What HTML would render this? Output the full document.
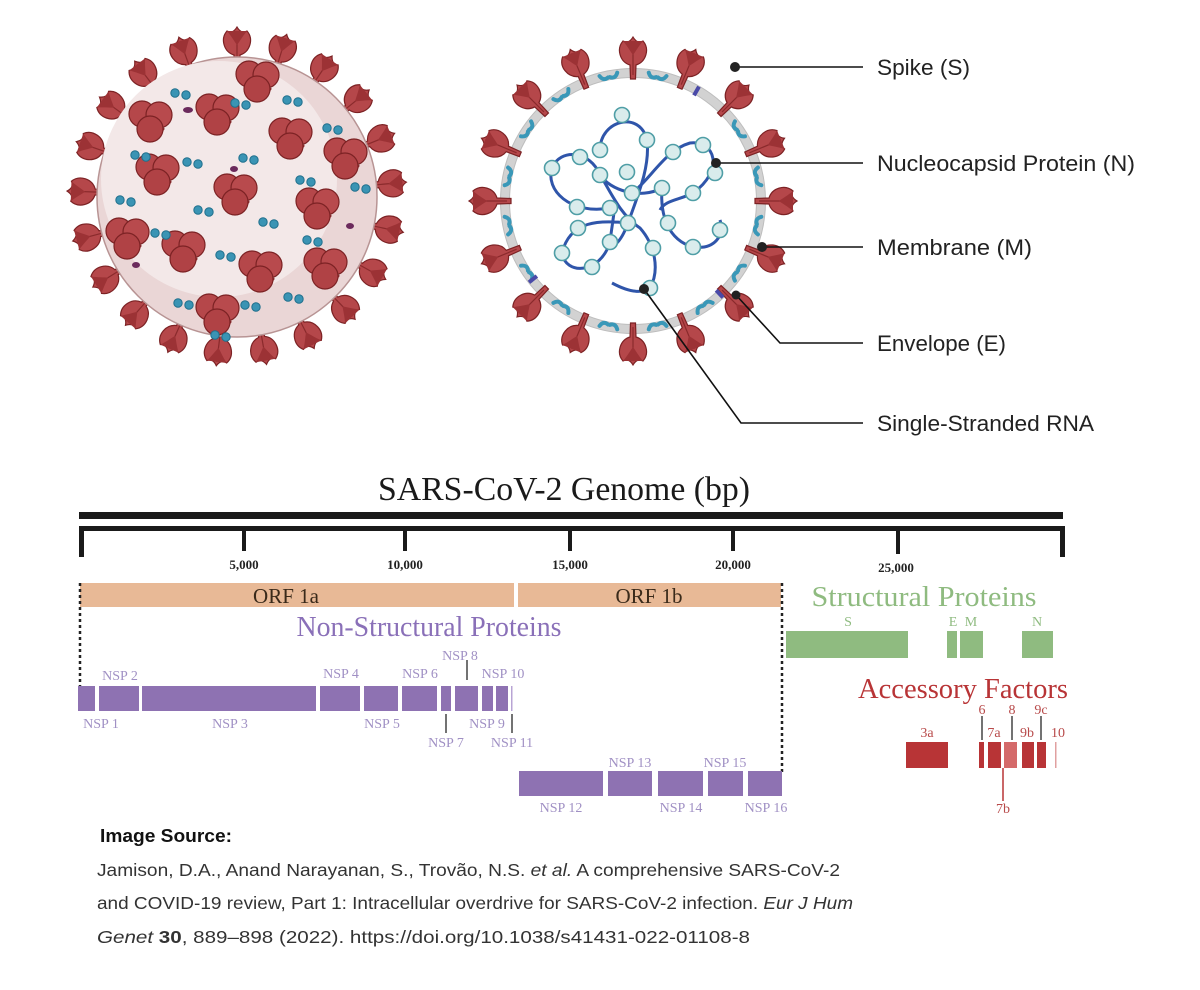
<!DOCTYPE html>
<html><head><meta charset="utf-8"><style>
html,body{margin:0;padding:0;background:#fff;}
svg{display:block;}
</style></head><body>
<svg width="1200" height="990" viewBox="0 0 1200 990" xmlns="http://www.w3.org/2000/svg">
<defs>
<g id="sp">
<path d="M-2.5,0 L2.5,0 L3,-14 C13,-17 17,-30 10,-38 C6,-36 3,-37 0,-42 C-3,-37 -6,-36 -10,-38 C-17,-30 -13,-17 -3,-14 Z" fill="#b5474a" stroke="#7c2224" stroke-width="1.2"/>
<path d="M0,-4 L0,-38" stroke="#8a2a2c" stroke-width="1.2"/>
<path d="M-10,-38 C-5,-32 -3,-28 0,-24 C3,-28 5,-32 10,-38" fill="#9c3235" stroke="none"/>
</g>
<g id="mp">
<path d="M-9,-3 q3,6 8,3" fill="none" stroke="#3a98b8" stroke-width="4" stroke-linecap="round"/>
<path d="M9,-3 q-3,6 -8,3" fill="none" stroke="#3a98b8" stroke-width="4" stroke-linecap="round"/>
</g>
<g id="tv">
<path d="M0,0 l14,10" stroke="#8a2a2c" stroke-width="3"/>
<circle cx="-8" cy="-6" r="13" fill="#b5474a" stroke="#7c2224" stroke-width="1.2"/>
<circle cx="9" cy="-5" r="13" fill="#b84a4d" stroke="#7c2224" stroke-width="1.2"/>
<circle cx="0" cy="9" r="13" fill="#b04245" stroke="#7c2224" stroke-width="1.2"/>
</g>
<g id="bd"><circle cx="-5" cy="0" r="4.2" fill="#3a94b4" stroke="#1f6f8c"/><circle cx="6" cy="2" r="4.2" fill="#3a94b4" stroke="#1f6f8c"/></g>
</defs>

<!-- LEFT VIRUS -->
<g transform="translate(237,197)">
<use href="#sp" transform="rotate(0) translate(0,-128)"/>
<use href="#sp" transform="rotate(17) translate(0,-128)"/>
<use href="#sp" transform="rotate(34) translate(0,-128)"/>
<use href="#sp" transform="rotate(51) translate(0,-128)"/>
<use href="#sp" transform="rotate(68) translate(0,-128)"/>
<use href="#sp" transform="rotate(85) translate(0,-128)"/>
<use href="#sp" transform="rotate(102) translate(0,-128)"/>
<use href="#sp" transform="rotate(119) translate(0,-128)"/>
<use href="#sp" transform="rotate(136) translate(0,-128)"/>
<use href="#sp" transform="rotate(153) translate(0,-128)"/>
<use href="#sp" transform="rotate(170) translate(0,-128)"/>
<use href="#sp" transform="rotate(187) translate(0,-128)"/>
<use href="#sp" transform="rotate(204) translate(0,-128)"/>
<use href="#sp" transform="rotate(221) translate(0,-128)"/>
<use href="#sp" transform="rotate(238) translate(0,-128)"/>
<use href="#sp" transform="rotate(255) translate(0,-128)"/>
<use href="#sp" transform="rotate(272) translate(0,-128)"/>
<use href="#sp" transform="rotate(289) translate(0,-128)"/>
<use href="#sp" transform="rotate(306) translate(0,-128)"/>
<use href="#sp" transform="rotate(323) translate(0,-128)"/>
<use href="#sp" transform="rotate(340) translate(0,-128)"/>
<circle cx="0" cy="0" r="140" fill="#ead6d6" stroke="#b89494" stroke-width="1.5"/>
<circle cx="-18" cy="-18" r="118" fill="#f3e8e8"/>
</g>
<use href="#tv" x="217" y="113"/><use href="#tv" x="290" y="137"/><use href="#tv" x="150" y="120"/>
<use href="#tv" x="157" y="173"/><use href="#tv" x="235" y="193"/><use href="#tv" x="317" y="207"/>
<use href="#tv" x="183" y="250"/><use href="#tv" x="260" y="270"/><use href="#tv" x="257" y="80"/>
<use href="#tv" x="345" y="157"/><use href="#tv" x="127" y="237"/><use href="#tv" x="325" y="267"/>
<use href="#tv" x="217" y="313"/>
<use href="#bd" x="180" y="93"/><use href="#bd" x="240" y="103"/><use href="#bd" x="292" y="100"/>
<use href="#bd" x="332" y="128"/><use href="#bd" x="140" y="155"/><use href="#bd" x="192" y="162"/>
<use href="#bd" x="248" y="158"/><use href="#bd" x="305" y="180"/><use href="#bd" x="125" y="200"/>
<use href="#bd" x="203" y="210"/><use href="#bd" x="268" y="222"/><use href="#bd" x="312" y="240"/>
<use href="#bd" x="160" y="233"/><use href="#bd" x="225" y="255"/><use href="#bd" x="183" y="303"/>
<use href="#bd" x="250" y="305"/><use href="#bd" x="293" y="297"/><use href="#bd" x="360" y="187"/>
<use href="#bd" x="220" y="335"/>
<ellipse cx="188" cy="110" rx="5" ry="3" fill="#6b2a5c"/>
<ellipse cx="234" cy="169" rx="4" ry="3" fill="#6b2a5c"/>
<ellipse cx="350" cy="226" rx="4" ry="3" fill="#6b2a5c"/>
<ellipse cx="136" cy="265" rx="4" ry="3" fill="#6b2a5c"/>

<!-- RIGHT VIRUS -->
<g transform="translate(633,201)">
<circle cx="0" cy="0" r="128" fill="none" stroke="#d2d2d2" stroke-width="9"/>
<circle cx="0" cy="0" r="132.5" fill="none" stroke="#bdbdbd" stroke-width="1"/>
<circle cx="0" cy="0" r="123.5" fill="none" stroke="#bdbdbd" stroke-width="1"/>
<use href="#sp" transform="rotate(0) translate(0,-122)"/>
<use href="#sp" transform="rotate(22.5) translate(0,-122)"/>
<use href="#sp" transform="rotate(45) translate(0,-122)"/>
<use href="#sp" transform="rotate(67.5) translate(0,-122)"/>
<use href="#sp" transform="rotate(90) translate(0,-122)"/>
<use href="#sp" transform="rotate(112.5) translate(0,-122)"/>
<use href="#sp" transform="rotate(135) translate(0,-122)"/>
<use href="#sp" transform="rotate(157.5) translate(0,-122)"/>
<use href="#sp" transform="rotate(180) translate(0,-122)"/>
<use href="#sp" transform="rotate(202.5) translate(0,-122)"/>
<use href="#sp" transform="rotate(225) translate(0,-122)"/>
<use href="#sp" transform="rotate(247.5) translate(0,-122)"/>
<use href="#sp" transform="rotate(270) translate(0,-122)"/>
<use href="#sp" transform="rotate(292.5) translate(0,-122)"/>
<use href="#sp" transform="rotate(315) translate(0,-122)"/>
<use href="#sp" transform="rotate(337.5) translate(0,-122)"/>
<use href="#mp" transform="rotate(-11) translate(0,-126)"/>
<use href="#mp" transform="rotate(11) translate(0,-126)"/>
<use href="#mp" transform="rotate(56) translate(0,-126)"/>
<use href="#mp" transform="rotate(79) translate(0,-126)"/>
<use href="#mp" transform="rotate(101) translate(0,-126)"/>
<use href="#mp" transform="rotate(124) translate(0,-126)"/>
<use href="#mp" transform="rotate(146) translate(0,-126)"/>
<use href="#mp" transform="rotate(169) translate(0,-126)"/>
<use href="#mp" transform="rotate(191) translate(0,-126)"/>
<use href="#mp" transform="rotate(214) translate(0,-126)"/>
<use href="#mp" transform="rotate(236) translate(0,-126)"/>
<use href="#mp" transform="rotate(259) translate(0,-126)"/>
<use href="#mp" transform="rotate(281) translate(0,-126)"/>
<use href="#mp" transform="rotate(304) translate(0,-126)"/>
<use href="#mp" transform="rotate(326) translate(0,-126)"/>
<rect x="-2" y="-132" width="4" height="10" fill="#4a4aa8" transform="rotate(30)"/>
<rect x="-2" y="-132" width="4" height="10" fill="#4a4aa8" transform="rotate(137)"/>
<rect x="-2" y="-132" width="4" height="10" fill="#4a4aa8" transform="rotate(232)"/>
</g>
<!-- RNA -->
<g fill="none" stroke="#2f55aa" stroke-width="3">
<path d="M610,208 C570,215 545,190 552,168 C560,148 590,150 600,175 C610,190 640,200 662,188"/>
<path d="M600,150 C600,120 640,110 647,140 C650,165 640,190 628,223 C620,245 610,250 610,242"/>
<path d="M632,193 C650,180 665,150 690,143 C715,140 725,170 693,193 C680,200 665,200 660,210"/>
<path d="M628,223 C600,220 570,220 562,253 C565,275 600,275 610,242 C612,225 615,210 615,200"/>
<path d="M662,188 C660,215 668,240 693,247 C715,250 725,235 720,220"/>
<path d="M600,175 C610,190 620,215 640,228 C655,245 660,270 650,288 C640,295 625,290 612,283"/>
</g>
<g fill="#d9ecec" stroke="#4f9ea6" stroke-width="1.6">
<circle cx="622" cy="115" r="7.5"/><circle cx="647" cy="140" r="7.5"/><circle cx="600" cy="150" r="7.5"/>
<circle cx="627" cy="172" r="7.5"/><circle cx="552" cy="168" r="7.5"/><circle cx="580" cy="157" r="7.5"/>
<circle cx="600" cy="175" r="7.5"/><circle cx="632" cy="193" r="7.5"/><circle cx="610" cy="208" r="7.5"/>
<circle cx="577" cy="207" r="7.5"/><circle cx="673" cy="152" r="7.5"/><circle cx="703" cy="145" r="7.5"/>
<circle cx="715" cy="173" r="7.5"/><circle cx="693" cy="193" r="7.5"/><circle cx="662" cy="188" r="7.5"/>
<circle cx="628" cy="223" r="7.5"/><circle cx="653" cy="248" r="7.5"/><circle cx="610" cy="242" r="7.5"/>
<circle cx="578" cy="228" r="7.5"/><circle cx="562" cy="253" r="7.5"/><circle cx="592" cy="267" r="7.5"/>
<circle cx="668" cy="223" r="7.5"/><circle cx="693" cy="247" r="7.5"/><circle cx="720" cy="230" r="7.5"/>
<circle cx="650" cy="288" r="7.5"/>
</g>

<!-- callouts -->
<g stroke="#111" stroke-width="1.6" fill="none">
<path d="M735,67 H863"/>
<path d="M716,163 H863"/>
<path d="M762,247 H863"/>
<path d="M736,295 L780,343 H863"/>
<path d="M644,289 L741,423 H863"/>
</g>
<g fill="#222">
<circle cx="735" cy="67" r="5"/><circle cx="716" cy="163" r="5"/><circle cx="762" cy="247" r="5"/>
<circle cx="736" cy="295" r="4.5"/><circle cx="644" cy="289" r="5"/>
</g>
<g font-family="Liberation Sans, sans-serif" font-size="22" fill="#222">
<text x="877" y="75" textLength="93" lengthAdjust="spacingAndGlyphs">Spike (S)</text>
<text x="877" y="171" textLength="258" lengthAdjust="spacingAndGlyphs">Nucleocapsid Protein (N)</text>
<text x="877" y="255" textLength="155" lengthAdjust="spacingAndGlyphs">Membrane (M)</text>
<text x="877" y="351" textLength="129" lengthAdjust="spacingAndGlyphs">Envelope (E)</text>
<text x="877" y="431" textLength="217" lengthAdjust="spacingAndGlyphs">Single-Stranded RNA</text>
</g>

<!-- GENOME -->
<text x="564" y="500" text-anchor="middle" font-family="Liberation Serif, serif" font-size="34" fill="#1a1a1a" textLength="372" lengthAdjust="spacingAndGlyphs">SARS-CoV-2 Genome (bp)</text>
<rect x="79" y="512" width="984" height="7" fill="#1a1a1a"/>
<rect x="79" y="526" width="984" height="5" fill="#1a1a1a"/>
<g fill="#1a1a1a">
<rect x="79" y="526" width="5" height="31"/><rect x="1060" y="526" width="5" height="31"/>
<rect x="242" y="526" width="4" height="25"/><rect x="403" y="526" width="4" height="25"/>
<rect x="568" y="526" width="4" height="25"/><rect x="731" y="526" width="4" height="25"/>
<rect x="896" y="526" width="4" height="28"/>
</g>
<g font-family="Liberation Serif, serif" font-size="13" font-weight="bold" fill="#222" text-anchor="middle">
<text x="244" y="569">5,000</text><text x="405" y="569">10,000</text><text x="570" y="569">15,000</text>
<text x="733" y="569">20,000</text><text x="896" y="572">25,000</text>
</g>
<rect x="80" y="583" width="434" height="24" fill="#e8b996"/>
<rect x="518" y="583" width="263" height="24" fill="#e8b996"/>
<g font-family="Liberation Serif, serif" font-size="21" fill="#3a2a1a" text-anchor="middle">
<text x="286" y="603">ORF 1a</text><text x="649" y="603">ORF 1b</text>
</g>
<g stroke="#222" stroke-width="2.5" stroke-dasharray="3,3">
<path d="M80,583 V686"/><path d="M782,583 V772"/>
</g>
<text x="429" y="636" text-anchor="middle" font-family="Liberation Serif, serif" font-size="28" fill="#8a70b8" textLength="265" lengthAdjust="spacingAndGlyphs">Non-Structural Proteins</text>
<text x="924" y="606" text-anchor="middle" font-family="Liberation Serif, serif" font-size="28" fill="#8fbb80" textLength="225" lengthAdjust="spacingAndGlyphs">Structural Proteins</text>
<text x="963" y="698" text-anchor="middle" font-family="Liberation Serif, serif" font-size="28" fill="#b83436" textLength="210" lengthAdjust="spacingAndGlyphs">Accessory Factors</text>

<g fill="#8e72b2">
<rect x="78" y="686" width="17" height="25"/><rect x="99" y="686" width="40" height="25"/>
<rect x="142" y="686" width="174" height="25"/><rect x="320" y="686" width="40" height="25"/>
<rect x="364" y="686" width="34" height="25"/><rect x="402" y="686" width="35" height="25"/>
<rect x="441" y="686" width="10" height="25"/><rect x="455" y="686" width="23" height="25"/>
<rect x="482" y="686" width="11" height="25"/><rect x="496" y="686" width="12" height="25"/>
<rect x="511" y="686" width="1.5" height="25" fill="#b8a4d4"/>
<rect x="519" y="771" width="84" height="25"/><rect x="608" y="771" width="44" height="25"/>
<rect x="658" y="771" width="45" height="25"/><rect x="708" y="771" width="35" height="25"/>
<rect x="748" y="771" width="34" height="25"/>
</g>
<g stroke="#444" stroke-width="1.5">
<path d="M467,660 V680"/><path d="M446,714 V733"/><path d="M512,714 V733"/>
</g>
<g font-family="Liberation Serif, serif" font-size="14" fill="#a090c4" text-anchor="middle">
<text x="120" y="680">NSP 2</text><text x="341" y="678">NSP 4</text><text x="420" y="678">NSP 6</text>
<text x="460" y="660">NSP 8</text><text x="503" y="678">NSP 10</text>
<text x="101" y="728">NSP 1</text><text x="230" y="728">NSP 3</text><text x="382" y="728">NSP 5</text>
<text x="487" y="728">NSP 9</text><text x="446" y="747">NSP 7</text><text x="512" y="747">NSP 11</text>
<text x="630" y="767">NSP 13</text><text x="725" y="767">NSP 15</text>
<text x="561" y="812">NSP 12</text><text x="681" y="812">NSP 14</text><text x="766" y="812">NSP 16</text>
</g>

<g fill="#8fbb80">
<rect x="786" y="631" width="122" height="27"/><rect x="947" y="631" width="10" height="27"/>
<rect x="960" y="631" width="23" height="27"/><rect x="1022" y="631" width="31" height="27"/>
</g>
<g font-family="Liberation Serif, serif" font-size="14" fill="#8fbb80" text-anchor="middle">
<text x="848" y="626">S</text><text x="953" y="626">E</text><text x="971" y="626">M</text><text x="1037" y="626">N</text>
</g>

<g fill="#b83436">
<rect x="906" y="742" width="42" height="26"/><rect x="979" y="742" width="5" height="26"/>
<rect x="988" y="742" width="13" height="26"/><rect x="1004" y="742" width="13" height="26" fill="#d46a6a"/>
<rect x="1022" y="742" width="12" height="26"/><rect x="1037" y="742" width="9" height="26"/>
<rect x="1055" y="742" width="1.5" height="26" fill="#e0a0a0"/>
</g>
<g stroke="#444" stroke-width="1.5">
<path d="M982,716 V740"/><path d="M1012,716 V740"/><path d="M1041,716 V740"/>
</g>
<path d="M1003,768 V801" stroke="#b83436" stroke-width="1.5"/>
<g font-family="Liberation Serif, serif" font-size="14" fill="#b84a4a" text-anchor="middle">
<text x="982" y="714">6</text><text x="1012" y="714">8</text><text x="1041" y="714">9c</text>
<text x="927" y="737">3a</text><text x="994" y="737">7a</text><text x="1027" y="737">9b</text><text x="1058" y="737">10</text>
<text x="1003" y="813">7b</text>
</g>

<!-- source -->
<text x="100" y="842" font-family="Liberation Sans, sans-serif" font-size="18" font-weight="bold" fill="#111" textLength="132" lengthAdjust="spacingAndGlyphs">Image Source:</text>
<g font-family="Liberation Sans, sans-serif" font-size="17.5" fill="#333">
<text x="97" y="876" textLength="743" lengthAdjust="spacingAndGlyphs">Jamison, D.A., Anand Narayanan, S., Trovão, N.S. <tspan font-style="italic">et al.</tspan> A comprehensive SARS-CoV-2</text>
<text x="97" y="909" textLength="756" lengthAdjust="spacingAndGlyphs">and COVID-19 review, Part 1: Intracellular overdrive for SARS-CoV-2 infection. <tspan font-style="italic">Eur J Hum</tspan></text>
<text x="97" y="943" textLength="653" lengthAdjust="spacingAndGlyphs"><tspan font-style="italic">Genet</tspan> <tspan font-weight="bold">30</tspan>, 889–898 (2022). https://doi.org/10.1038/s41431-022-01108-8</text>
</g>
</svg>
</body></html>
